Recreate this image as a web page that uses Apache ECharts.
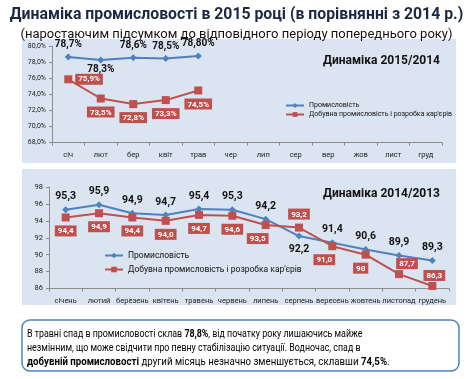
<!DOCTYPE html>
<html><head><meta charset="utf-8">
<script src="https://cdn.jsdelivr.net/npm/echarts@6/dist/echarts.min.js"></script>
<style>html,body{margin:0;padding:0;background:#fff}#c{width:473px;height:379px}</style>
</head><body><div id="c"></div>
<script>
// ---- data ----
const topCategories = ['січ','лют','бер','квіт','трав','чер','лип','сер','вер','жов','лист','груд'];
const topIndustry = [78.7, 78.3, 78.6, 78.5, 78.8];
const topIndustryLabels = ['78,7%','78,3%','78,6%','78,5%','78,80%'];
const topMining = [75.9, 73.5, 72.8, 73.3, 74.5];
const topMiningLabels = ['75,9%','73,5%','72,8%','73,3%','74,5%'];
const topYTicks = [68, 70, 72, 74, 76, 78, 80];

const botCategories = ['січень','лютий','березень','квітень','травень','червень','липень','серпень','вересень','жовтень','листопад','грудень'];
const botIndustry = [95.3, 95.9, 94.9, 94.7, 95.4, 95.3, 94.2, 92.2, 91.4, 90.6, 89.9, 89.3];
const botIndustryLabels = ['95,3','95,9','94,9','94,7','95,4','95,3','94,2','92,2','91,4','90,6','89,9','89,3'];
const botMining = [94.4, 94.9, 94.4, 94.0, 94.7, 94.6, 93.5, 93.2, 91.0, 90, 87.7, 86.3];
const botMiningLabels = ['94,4','94,9','94,4','94,0','94,7','94,6','93,5','93,2','91,0','90','87,7','86,3'];
const botYTicks = [86, 88, 90, 92, 94, 96, 98];

const nameInd = 'Промисловість';
const nameMin = "Добувна промисловість і розробка кар'єрів";

// ---- styles ----
const FONT = 'Roboto';
const BLUE = '#4f81bd';
const RED = '#c0504d';
const PANEL = '#dbe5f1';

function indData(vals, labels, belowMap, fs) {
  return vals.map((v, i) => ({
    value: v,
    label: {
      show: true, formatter: labels[i],
      position: (i in belowMap) ? 'bottom' : 'top',
      distance: (i in belowMap) ? belowMap[i] : 4,
      fontFamily: FONT, fontWeight: 'bold', fontSize: fs, color: '#111'
    }
  }));
}
function minData(vals, labels, posMap, fs) {
  return vals.map((v, i) => {
    const p = posMap[i] || { position: 'bottom', offset: [0, 0] };
    return {
      value: v,
      label: {
        show: true, formatter: labels[i],
        position: p.position, offset: p.offset || [0, 0],
        distance: p.distance != null ? p.distance : 4,
        fontFamily: FONT, fontWeight: 'bold', fontSize: fs, color: '#fff',
        backgroundColor: RED, padding: [2, 3, 1, 3]
      }
    };
  });
}

const axisLineStyle = { lineStyle: { color: '#8c8c8c', width: 1 } };
const txtN = { fontFamily: FONT, fontSize: 10.2, fill: '#000' };
const txtB = { fontFamily: FONT, fontSize: 10.2, fontWeight: 'bold', fill: '#000' };

const chart = echarts.init(document.getElementById('c'), null, { renderer: 'canvas' });
chart.setOption({
  animation: false,
  textStyle: { fontFamily: FONT },
  title: [
    { text: 'Динаміка промисловості в 2015 році (в порівнянні з 2014 р.)', left: 'center', top: 2,
      textStyle: { fontFamily: FONT, fontSize: 15.8, fontWeight: 'bold', color: '#1c2740' } },
    { text: '(наростаючим підсумком до відповідного періоду попереднього року)', left: 'center', top: 23,
      textStyle: { fontFamily: FONT, fontSize: 13, fontWeight: 'normal', color: '#111' } },
    { text: 'Динаміка 2015/2014', left: 318, top: 50,
      textStyle: { fontFamily: FONT, fontSize: 12, fontWeight: 'bold', color: '#111' } },
    { text: 'Динаміка 2014/2013', left: 318, top: 183,
      textStyle: { fontFamily: FONT, fontSize: 12, fontWeight: 'bold', color: '#111' } }
  ],
  graphic: [
    { type: 'rect', z: -10, shape: { x: 22, y: 39, width: 434, height: 124 }, style: { fill: PANEL } },
    { type: 'rect', z: -10, shape: { x: 22, y: 169, width: 434, height: 136 }, style: { fill: PANEL } },
    { type: 'rect', z: -10, shape: { x: 22, y: 320, width: 437, height: 51, r: 8 },
      style: { fill: '#fff', stroke: BLUE, lineWidth: 1.5 } },
    { type: 'text', x: 27, y: 329, scaleX: 0.87, style: {
        x: 0, y: 0, verticalAlign: 'top',
        text: '{n|В травні спад в промисловості склав }{b|78,8%}{n|, від початку року лишаючись майже}',
        rich: { n: txtN, b: txtB } } },
    { type: 'text', x: 27, y: 343, scaleX: 0.87, style: {
        x: 0, y: 0, verticalAlign: 'top',
        text: '{n|незмінним, що може свідчити про певну стабілізацію ситуації. Водночас, спад в}',
        rich: { n: txtN } } },
    { type: 'text', x: 27, y: 357, scaleX: 0.95, style: {
        x: 0, y: 0, verticalAlign: 'top',
        text: '{b|добувній промисловості}{n| другий місяць незначно зменшується, склавши }{b|74,5%}{n|.}',
        rich: { n: txtN, b: txtB } } }
  ],
  legend: [
    { data: [nameInd, nameMin], orient: 'vertical', left: 280, top: 97, itemGap: 2,
      itemWidth: 18, itemHeight: 6, textStyle: { fontFamily: FONT, fontSize: 7, color: '#111' }, selectedMode: false },
    { data: [nameInd, nameMin], orient: 'vertical', left: 99, top: 246, itemGap: 5,
      itemWidth: 18, itemHeight: 7, textStyle: { fontFamily: FONT, fontSize: 8.5, color: '#111' }, selectedMode: false }
  ],
  grid: [
    { left: 52, right: 473 - 442, top: 46.5, height: 96 },
    { left: 49, right: 473 - 449, top: 187, height: 101.5 }
  ],
  xAxis: [
    { gridIndex: 0, type: 'category', data: topCategories, boundaryGap: true,
      axisLine: axisLineStyle, axisTick: { show: true, length: 3, lineStyle: { color: '#8c8c8c' } },
      axisLabel: { interval: 0, fontFamily: FONT, fontSize: 7.5, color: '#222', margin: 9 } },
    { gridIndex: 1, type: 'category', data: botCategories, boundaryGap: true,
      axisLine: axisLineStyle, axisTick: { show: true, length: 3, lineStyle: { color: '#8c8c8c' } },
      axisLabel: { interval: 0, fontFamily: FONT, fontSize: 7.5, color: '#222', margin: 9 } }
  ],
  yAxis: [
    { gridIndex: 0, type: 'value', min: topYTicks[0], max: topYTicks[topYTicks.length - 1], interval: 2,
      splitLine: { show: false }, axisLine: { show: true, ...axisLineStyle },
      axisTick: { show: true, length: 3, lineStyle: { color: '#8c8c8c' } },
      axisLabel: { fontFamily: FONT, fontSize: 7, color: '#222', margin: 6,
        formatter: v => v.toFixed(1).replace('.', ',') + '%' } },
    { gridIndex: 1, type: 'value', min: botYTicks[0], max: botYTicks[botYTicks.length - 1], interval: 2,
      splitLine: { show: false }, axisLine: { show: true, ...axisLineStyle },
      axisTick: { show: true, length: 3, lineStyle: { color: '#8c8c8c' } },
      axisLabel: { fontFamily: FONT, fontSize: 7.5, color: '#222', margin: 6 } }
  ],
  series: [
    { name: nameInd, type: 'line', xAxisIndex: 0, yAxisIndex: 0,
      data: indData(topIndustry, topIndustryLabels, { 1: 1 }, 10),
      symbol: 'diamond', symbolSize: 7, lineStyle: { color: BLUE, width: 2 }, itemStyle: { color: BLUE } },
    { name: nameMin, type: 'line', xAxisIndex: 0, yAxisIndex: 0,
      data: minData(topMining, topMiningLabels, { 0: { position: 'right', offset: [-1, 0] } }, 8),
      symbol: 'rect', symbolSize: 8, lineStyle: { color: RED, width: 2 }, itemStyle: { color: RED } },
    { name: nameInd, type: 'line', xAxisIndex: 1, yAxisIndex: 1,
      data: indData(botIndustry, botIndustryLabels, { 7: 4 }, 10.5),
      symbol: 'diamond', symbolSize: 7, lineStyle: { color: BLUE, width: 2 }, itemStyle: { color: BLUE } },
    { name: nameMin, type: 'line', xAxisIndex: 1, yAxisIndex: 1,
      data: minData(botMining, botMiningLabels, {
        6: { position: 'bottom', offset: [-8, 0] },
        7: { position: 'top', offset: [0, 0] },
        8: { position: 'bottom', offset: [-8, 0] },
        9: { position: 'bottom', offset: [-5, 0] },
        10: { position: 'top', offset: [8, 0], distance: 1 },
        11: { position: 'top', offset: [2, 0], distance: 1 }
      }, 8),
      symbol: 'rect', symbolSize: 8, lineStyle: { color: RED, width: 2 }, itemStyle: { color: RED } }
  ]
});
</script>
</body></html>
